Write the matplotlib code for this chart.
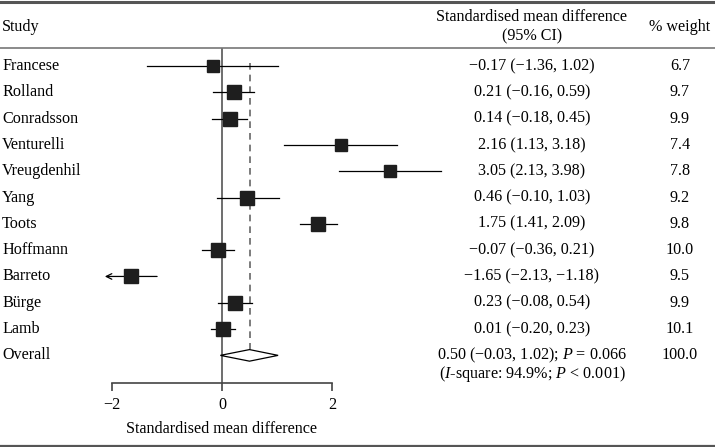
import matplotlib.pyplot as plt
import matplotlib.transforms as mtransforms
from matplotlib.lines import Line2D
import numpy as np

plt.rcParams['font.family'] = ['Liberation Serif', 'DejaVu Serif']
plt.rcParams['mathtext.fontset'] = 'custom'
plt.rcParams['mathtext.it'] = 'Liberation Serif:italic'
plt.rcParams['mathtext.rm'] = 'Liberation Serif'

studies = ['Francese', 'Rolland', 'Conradsson', 'Venturelli', 'Vreugdenhil', 'Yang',
           'Toots', 'Hoffmann', 'Barreto', 'Bürge', 'Lamb']
smd = [-0.17, 0.21, 0.14, 2.16, 3.05, 0.46, 1.75, -0.07, -1.65, 0.23, 0.01]
lo = [-1.36, -0.16, -0.18, 1.13, 2.13, -0.10, 1.41, -0.36, -2.13, -0.08, -0.20]
hi = [1.02, 0.59, 0.45, 3.18, 3.98, 1.03, 2.09, 0.21, -1.18, 0.54, 0.23]
weight = [6.7, 9.7, 9.9, 7.4, 7.8, 9.2, 9.8, 10.0, 9.5, 9.9, 10.1]
overall = 0.50
overall_lo = -0.03
overall_hi = 1.02
ci_text = ['−0.17 (−1.36, 1.02)', '0.21 (−0.16, 0.59)', '0.14 (−0.18, 0.45)',
           '2.16 (1.13, 3.18)', '3.05 (2.13, 3.98)', '0.46 (−0.10, 1.03)',
           '1.75 (1.41, 2.09)', '−0.07 (−0.36, 0.21)', '−1.65 (−2.13, −1.18)',
           '0.23 (−0.08, 0.54)', '0.01 (−0.20, 0.23)']
overall_text = '0.50 (−0.03, 1.02); $P$ = 0.066'
het_text = '($I$-square: 94.9%; $P$ < 0.001)'
weight_text = ['6.7', '9.7', '9.9', '7.4', '7.8', '9.2', '9.8', '10.0', '9.5', '9.9', '10.1']
xticks = [-2, 0, 2]

W, H = 715, 447
fig = plt.figure(figsize=(W / 100, H / 100), dpi=100)
ax = fig.add_axes([112 / W, (H - 383) / H, 220 / W, (383 - 48) / H])
ax.set_xlim(-2, 2)
ax.set_ylim(12.05, -0.684)
for s in ['top', 'right', 'left']:
    ax.spines[s].set_visible(False)
ax.spines['bottom'].set_color('#444444')
ax.spines['bottom'].set_linewidth(1.2)
ax.set_yticks([])
ax.set_xticks(xticks)

fs = 11.6
ax.set_xticklabels(['−2', '0', '2'], fontsize=fs)
ax.tick_params(axis='x', direction='out', length=6, width=1.2, color='#444444', pad=4)
ax.set_xlabel('Standardised mean difference', fontsize=fs, labelpad=6)

n = len(studies)
ys = np.arange(n)

# reference lines
ax.axvline(0, color='#555555', lw=1.2, zorder=1)
ax.plot([overall, overall], [-0.1, n], color='#666666', lw=1.2, ls=(0, (4, 3)), zorder=1)

# CIs and squares
for i in range(n):
    if lo[i] < -2:
        ax.annotate('', xy=(lo[i], ys[i]), xytext=(hi[i], ys[i]),
                    arrowprops=dict(arrowstyle='->', lw=0.9, color='black',
                                    shrinkA=0, shrinkB=0), annotation_clip=False)
    else:
        ax.plot([lo[i], hi[i]], [ys[i], ys[i]], color='black', lw=0.9, clip_on=False, zorder=2)
    ax.plot(smd[i], ys[i], marker='s', ms=np.sqrt(weight[i]) * 3.2, color='#1e1e1e',
            mec='#1e1e1e', clip_on=False, zorder=3)

# overall diamond
dy = 0.22
ax.fill([overall_lo, overall, overall_hi, overall], [n, n - dy, n, n + dy],
        facecolor='white', edgecolor='black', lw=0.9, zorder=3)

# text columns
tr = mtransforms.blended_transform_factory(fig.transFigure, ax.transData)
for i in range(n):
    ax.text(2 / W, ys[i], studies[i], transform=tr, ha='left', va='center', fontsize=fs)
    ax.text(532 / W, ys[i], ci_text[i], transform=tr, ha='center', va='center', fontsize=fs)
    ax.text(680 / W, ys[i], weight_text[i], transform=tr, ha='center', va='center', fontsize=fs)
ax.text(2 / W, n, 'Overall', transform=tr, ha='left', va='center', fontsize=fs)
ax.text(532 / W, n, overall_text, transform=tr, ha='center', va='center', fontsize=fs)
ax.text(532 / W, n + 0.72, het_text, transform=tr, ha='center', va='center', fontsize=fs)
ax.text(680 / W, n, '100.0', transform=tr, ha='center', va='center', fontsize=fs)

# header
fig.text(2 / W, 1 - 27 / H, 'Study', ha='left', va='center', fontsize=fs)
fig.text(532 / W, 1 - 17 / H, 'Standardised mean difference', ha='center', va='center', fontsize=fs)
fig.text(532 / W, 1 - 36 / H, '(95% CI)', ha='center', va='center', fontsize=fs)
fig.text(680 / W, 1 - 27 / H, '% weight', ha='center', va='center', fontsize=fs)

# table rules
fig.add_artist(Line2D([0, 1], [1 - 1.5 / H, 1 - 1.5 / H], color='#555555', lw=2.2))
fig.add_artist(Line2D([0, 1], [1 - 48 / H, 1 - 48 / H], color='#777777', lw=1.2))
fig.add_artist(Line2D([0, 1], [1 - 445.5 / H, 1 - 445.5 / H], color='#555555', lw=1.6))

fig.savefig('out.png', dpi=100)
